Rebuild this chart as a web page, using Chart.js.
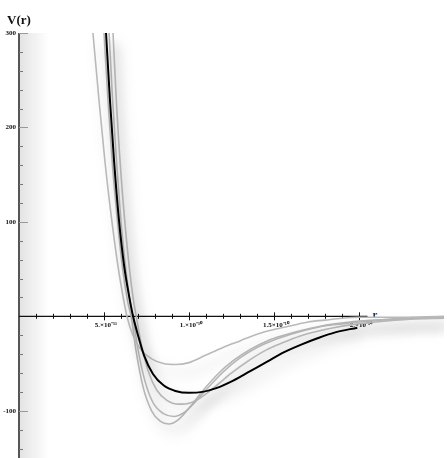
<!DOCTYPE html>
<html>
<head>
<meta charset="utf-8">
<script src="https://cdn.jsdelivr.net/npm/chart.js@4.4.1/dist/chart.umd.min.js"></script>
<style>
  html, body { margin: 0; padding: 0; background: #fff; }
  #wrap { width: 447px; height: 458px; }
</style>
</head>
<body>
<div id="wrap"><canvas id="potential" width="447" height="458"></canvas></div>
<script>
// r is in units of 1e-10 m, V(r) in the plot's energy units

// reference potential (black)
const blackR = [0.512, 0.535, 0.559, 0.588, 0.618, 0.647, 0.671, 0.70, 0.735, 0.788, 0.85, 0.92, 1.0, 1.08, 1.16, 1.26, 1.36, 1.46, 1.56, 1.66, 1.76, 1.86, 1.99];
const blackV = [300, 229, 165, 102, 54, 22, 0, -20, -41, -61, -73, -79, -81, -80, -76, -68, -58, -48, -38, -30, -23, -17, -12];

// shallow well
const gray1R = [0.435, 0.47, 0.505, 0.54, 0.575, 0.605, 0.635, 0.67, 0.72, 0.78, 0.85, 0.92, 1.0, 1.1, 1.2, 1.3, 1.4, 1.5, 1.6, 1.7, 1.8, 1.9, 2.0, 2.2, 2.5];
const gray1V = [300, 230, 165, 110, 62, 28, 0, -20, -36, -45, -50, -51, -49, -41, -33, -26, -19, -14, -10, -6, -4, -2, -1, -1, 0];

const gray2R = [0.553, 0.575, 0.60, 0.625, 0.65, 0.675, 0.69, 0.72, 0.76, 0.81, 0.87, 0.94, 1.0, 1.07, 1.15, 1.25, 1.35, 1.45, 1.55, 1.65, 1.75, 1.85, 1.95, 2.1, 2.3, 2.5];
const gray2V = [300, 220, 150, 95, 50, 15, 0, -30, -58, -78, -89, -93, -92, -86, -75, -60, -47, -36, -28, -21, -16, -12, -9, -6, -3, -2];

const gray3R = [0.53, 0.55, 0.575, 0.60, 0.625, 0.65, 0.67, 0.70, 0.74, 0.79, 0.85, 0.91, 0.97, 1.04, 1.12, 1.2, 1.3, 1.4, 1.5, 1.6, 1.7, 1.8, 1.9, 2.0, 2.2, 2.5];
const gray3V = [300, 230, 160, 100, 55, 20, 0, -35, -68, -92, -103, -106, -102, -90, -74, -59, -44, -33, -25, -19, -14, -10, -8, -6, -3, -1];

// deepest well
const gray4R = [0.50, 0.525, 0.55, 0.58, 0.61, 0.64, 0.66, 0.69, 0.73, 0.78, 0.83, 0.88, 0.94, 1.01, 1.09, 1.17, 1.26, 1.36, 1.46, 1.56, 1.66, 1.76, 1.86, 2.0, 2.2, 2.5];
const gray4V = [300, 225, 160, 100, 50, 15, 0, -38, -75, -100, -111, -114, -109, -95, -77, -61, -47, -35, -26, -20, -15, -11, -8, -5, -3, -1];

const xTickValues = [0.5, 1, 1.5, 2];
const xTickLabels = ["5.×10⁻¹¹", "1.×10⁻¹⁰", "1.5×10⁻¹⁰", "2.×10⁻¹⁰"];
const yTickValues = [300, 200, 100, -100];
const yTickLabels = ["300", "200", "100", "-100"];

function pairs(rs, vs) {
  return rs.map((r, i) => ({ x: r, y: vs[i] }));
}

function curve(rs, vs, color, width, order) {
  return {
    data: pairs(rs, vs),
    borderColor: color,
    borderWidth: width,
    pointRadius: 0,
    fill: false,
    cubicInterpolationMode: "monotone",
    order: order,
  };
}

// soft drop shadow under the curves
const curveShadow = {
  id: "curveShadow",
  beforeDatasetsDraw(chart) {
    const ctx = chart.ctx;
    ctx.save();
    ctx.shadowColor = "rgba(0,0,0,0.28)";
    ctx.shadowBlur = 14;
    ctx.shadowOffsetX = 6;
    ctx.shadowOffsetY = 9;
  },
  afterDatasetsDraw(chart) {
    chart.ctx.restore();
  },
};

// axes crossing at the origin, drawn from the chart's scales
const originAxes = {
  id: "originAxes",
  beforeDatasetsDraw(chart) {
    const ctx = chart.ctx;
    const xs = chart.scales.x;
    const ys = chart.scales.y;
    const x0 = xs.getPixelForValue(0);
    const y0 = ys.getPixelForValue(0);
    const top = ys.getPixelForValue(300);
    const bottom = chart.chartArea.bottom;

    ctx.save();
    // haze beside the vertical axis
    const g = ctx.createLinearGradient(x0, 0, x0 + 30, 0);
    g.addColorStop(0, "rgba(0,0,0,0.11)");
    g.addColorStop(1, "rgba(0,0,0,0)");
    ctx.fillStyle = g;
    ctx.fillRect(x0, top, 30, bottom - top);

    // vertical axis
    ctx.strokeStyle = "#555";
    ctx.lineWidth = 2;
    ctx.beginPath();
    ctx.moveTo(x0, top);
    ctx.lineTo(x0, bottom);
    ctx.stroke();

    ctx.lineWidth = 1;
    for (let v = -140; v <= 300; v += 20) {
      if (v === 0) continue;
      const py = Math.round(ys.getPixelForValue(v)) + 0.5;
      const major = v % 100 === 0;
      ctx.strokeStyle = major ? "#999" : "#777";
      ctx.beginPath();
      ctx.moveTo(x0, py);
      ctx.lineTo(x0 + (major ? 9 : 4), py);
      ctx.stroke();
    }

    ctx.fillStyle = "#111";
    ctx.font = "bold 7px 'Liberation Serif', serif";
    ctx.textAlign = "right";
    ctx.textBaseline = "middle";
    yTickValues.forEach((v, i) => {
      ctx.fillText(yTickLabels[i], x0 - 3, ys.getPixelForValue(v));
    });

    // horizontal axis
    const xEnd = xs.getPixelForValue(2.05);
    ctx.strokeStyle = "#111";
    ctx.lineWidth = 1.4;
    ctx.beginPath();
    ctx.moveTo(x0, y0);
    ctx.lineTo(xEnd, y0);
    ctx.stroke();

    ctx.lineWidth = 1;
    for (let k = 1; k <= 20; k++) {
      const px = Math.round(xs.getPixelForValue(k / 10)) + 0.5;
      const len = k % 5 === 0 ? 4 : 2.5;
      ctx.beginPath();
      ctx.moveTo(px, y0 - len);
      ctx.lineTo(px, y0 + len);
      ctx.stroke();
    }

    ctx.font = "bold 7px 'Liberation Serif', serif";
    ctx.textAlign = "center";
    ctx.textBaseline = "top";
    xTickValues.forEach((v, i) => {
      ctx.fillText(xTickLabels[i], xs.getPixelForValue(v) + 2, y0 + 5);
    });

    // axis titles
    ctx.font = "bold 13px 'Liberation Serif', serif";
    ctx.textAlign = "left";
    ctx.textBaseline = "alphabetic";
    ctx.fillStyle = "#111";
    ctx.fillText("V(r)", 7, 24);

    ctx.font = "bold 11px 'Liberation Serif', serif";
    ctx.fillStyle = "#223366";
    ctx.textBaseline = "middle";
    ctx.fillText("r", xEnd + 5, y0 - 1);
    ctx.restore();
  },
};

const ctx = document.getElementById("potential").getContext("2d");
const potentialChart = new Chart(ctx, {
  type: "line",
  data: {
    datasets: [
      curve(blackR, blackV, "#000", 2, 0),
      curve(gray1R, gray1V, "rgb(185,185,185)", 1.6, 1),
      curve(gray2R, gray2V, "rgb(185,185,185)", 1.6, 1),
      curve(gray3R, gray3V, "rgb(185,185,185)", 1.6, 1),
      curve(gray4R, gray4V, "rgb(185,185,185)", 1.6, 1),
    ],
  },
  options: {
    responsive: false,
    devicePixelRatio: 1,
    animation: false,
    layout: { padding: { left: 19, top: 33, right: 3, bottom: 0 } },
    plugins: { legend: { display: false }, tooltip: { enabled: false } },
    scales: {
      x: { type: "linear", min: 0, max: 2.5, display: false },
      y: { type: "linear", min: -150, max: 300, display: false },
    },
  },
  plugins: [originAxes, curveShadow],
});
</script>
</body>
</html>
